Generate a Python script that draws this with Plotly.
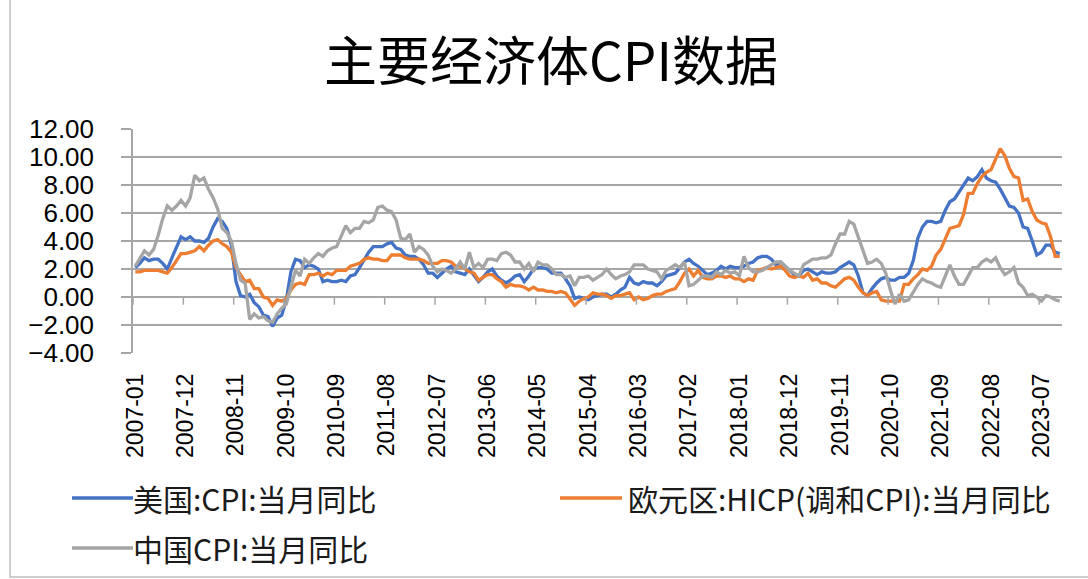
import plotly.graph_objects as go
import pandas as pd

months = [d.strftime("%Y-%m") for d in pd.date_range("2007-01-01", "2023-11-01", freq="MS")]

us_cpi = [
    2.1, 2.4, 2.8, 2.6, 2.7, 2.7, 2.4, 2.0, 2.8, 3.5, 4.3, 4.1,
    4.3, 4.0, 4.0, 3.9, 4.2, 5.0, 5.6, 5.4, 4.9, 3.7, 1.1, 0.1,
    0.0, 0.2, -0.4, -0.7, -1.3, -1.4, -2.1, -1.5, -1.3, -0.2, 1.8, 2.7,
    2.6, 2.1, 2.3, 2.2, 2.0, 1.1, 1.2, 1.1, 1.1, 1.2, 1.1, 1.5,
    1.6, 2.1, 2.7, 3.2, 3.6, 3.6, 3.6, 3.8, 3.9, 3.5, 3.4, 3.0,
    2.9, 2.9, 2.7, 2.3, 1.7, 1.7, 1.4, 1.7, 2.0, 2.2, 1.8, 1.7,
    1.6, 2.0, 1.5, 1.1, 1.4, 1.8, 2.0, 1.5, 1.2, 1.0, 1.2, 1.5,
    1.6, 1.1, 1.5, 2.0, 2.1, 2.1, 2.0, 1.7, 1.7, 1.7, 1.3, 0.8,
    -0.1, 0.0, -0.1, -0.2, 0.0, 0.1, 0.2, 0.2, 0.0, 0.2, 0.5, 0.7,
    1.4, 1.0, 0.9, 1.1, 1.0, 1.0, 0.8, 1.1, 1.5, 1.6, 1.7, 2.1,
    2.5, 2.7, 2.4, 2.2, 1.9, 1.6, 1.7, 1.9, 2.2, 2.0, 2.2, 2.1,
    2.1, 2.2, 2.4, 2.5, 2.8, 2.9, 2.9, 2.7, 2.3, 2.5, 2.2, 1.9,
    1.6, 1.5, 1.9, 2.0, 1.8, 1.6, 1.8, 1.7, 1.7, 1.8, 2.1, 2.3,
    2.5, 2.3, 1.5, 0.3, 0.1, 0.6, 1.0, 1.3, 1.4, 1.2, 1.2, 1.4,
    1.4, 1.7, 2.6, 4.2, 5.0, 5.4, 5.4, 5.3, 5.4, 6.2, 6.8, 7.0,
    7.5, 7.9, 8.5, 8.3, 8.6, 9.1, 8.5, 8.3, 8.2, 7.7, 7.1, 6.5,
    6.4, 6.0, 5.0, 4.9, 4.0, 3.0, 3.2, 3.7, 3.7, 3.2, 3.1,
]

ea_hicp = [
    1.8, 1.8, 1.9, 1.9, 1.9, 1.9, 1.8, 1.7, 2.1, 2.6, 3.1, 3.1,
    3.2, 3.3, 3.6, 3.3, 3.7, 4.0, 4.1, 3.8, 3.6, 3.2, 2.1, 1.6,
    1.1, 1.2, 0.6, 0.6, 0.0, -0.1, -0.6, -0.2, -0.3, -0.1, 0.5, 0.9,
    1.0, 0.9, 1.6, 1.6, 1.7, 1.5, 1.7, 1.6, 1.9, 1.9, 1.9, 2.2,
    2.3, 2.4, 2.7, 2.8, 2.7, 2.7, 2.6, 2.6, 3.0, 3.0, 3.0, 2.8,
    2.7, 2.7, 2.7, 2.6, 2.4, 2.4, 2.4, 2.6, 2.6, 2.5, 2.2, 2.2,
    2.0, 1.8, 1.7, 1.2, 1.4, 1.6, 1.6, 1.3, 1.1, 0.7, 0.9, 0.8,
    0.8, 0.7, 0.5, 0.7, 0.5, 0.5, 0.4, 0.4, 0.3, 0.4, 0.3, -0.2,
    -0.6, -0.3, -0.1, 0.0, 0.3, 0.2, 0.2, 0.1, -0.1, 0.1, 0.1, 0.2,
    0.3, -0.2, 0.0, -0.2, -0.1, 0.1, 0.2, 0.2, 0.4, 0.5, 0.6, 1.1,
    1.7, 2.0, 1.5, 1.9, 1.4, 1.3, 1.3, 1.5, 1.5, 1.4, 1.5, 1.3,
    1.3, 1.1, 1.3, 1.2, 1.9, 2.0, 2.1, 2.0, 2.1, 2.2, 1.9, 1.5,
    1.4, 1.5, 1.4, 1.7, 1.2, 1.3, 1.0, 1.0, 0.8, 0.7, 1.0, 1.3,
    1.4, 1.2, 0.7, 0.3, 0.1, 0.3, 0.4, -0.2, -0.3, -0.3, -0.3, -0.3,
    0.9, 0.9, 1.3, 1.6, 2.0, 1.9, 2.2, 3.0, 3.4, 4.1, 4.9, 5.0,
    5.1, 5.9, 7.4, 7.4, 8.1, 8.6, 8.9, 9.1, 9.9, 10.6, 10.1, 9.2,
    8.6, 8.5, 6.9, 7.0, 6.1, 5.5, 5.3, 5.2, 4.3, 2.9, 2.9,
]

china_cpi = [
    2.2, 2.7, 3.3, 3.0, 3.4, 4.4, 5.6, 6.5, 6.2, 6.5, 6.9, 6.5,
    7.1, 8.7, 8.3, 8.5, 7.7, 7.1, 6.3, 4.9, 4.6, 4.0, 2.4, 1.2,
    1.0, -1.6, -1.2, -1.5, -1.4, -1.7, -1.8, -1.2, -0.8, -0.5, 0.6, 1.9,
    1.5, 2.7, 2.4, 2.8, 3.1, 2.9, 3.3, 3.5, 3.6, 4.4, 5.1, 4.6,
    4.9, 4.9, 5.4, 5.3, 5.5, 6.4, 6.5, 6.2, 6.1, 5.5, 4.2, 4.1,
    4.5, 3.2, 3.6, 3.4, 3.0, 2.2, 1.8, 2.0, 1.9, 1.7, 2.0, 2.5,
    2.0, 3.2, 2.1, 2.4, 2.1, 2.7, 2.7, 2.6, 3.1, 3.2, 3.0, 2.5,
    2.5, 2.0, 2.4, 1.8, 2.5, 2.3, 2.3, 2.0, 1.6, 1.6, 1.4, 1.5,
    0.8, 1.4, 1.4, 1.5, 1.2, 1.4, 1.6, 2.0, 1.6, 1.3, 1.5, 1.6,
    1.8, 2.3, 2.3, 2.3, 2.0, 1.9, 1.8, 1.3, 1.9, 2.1, 2.3, 2.1,
    2.5, 0.8, 0.9, 1.2, 1.5, 1.5, 1.4, 1.8, 1.6, 1.9, 1.7, 1.8,
    1.5, 2.9, 2.1, 1.8, 1.8, 1.9, 2.1, 2.3, 2.5, 2.5, 2.2, 1.9,
    1.7, 1.5, 2.3, 2.5, 2.7, 2.7, 2.8, 2.8, 3.0, 3.8, 4.5, 4.5,
    5.4, 5.2, 4.3, 3.3, 2.4, 2.5, 2.7, 2.4, 1.7, 0.5, -0.5, 0.2,
    -0.3, -0.2, 0.4, 0.9, 1.3, 1.1, 1.0, 0.8, 0.7, 1.5, 2.3, 1.5,
    0.9, 0.9, 1.5, 2.1, 2.1, 2.5, 2.7, 2.5, 2.8, 2.1, 1.6, 1.8,
    2.1, 1.0, 0.7, 0.1, 0.2, 0.0, -0.3, 0.1, 0.0, -0.2, -0.3,
]

series_names = ["美国:CPI:当月同比", "欧元区:HICP(调和CPI):当月同比", "中国CPI:当月同比"]
series_colors = ["#4472C4", "#ED7D31", "#A5A5A5"]
title_text = "主要经济体CPI数据"
y_ticks = [-4, -2, 0, 2, 4, 6, 8, 10, 12]
label_step = 11

W, H = 1088, 579
L, R, T, B = 133, 1062, 129, 353  # plot area in pixels


def px(xp):
    return (xp - L) / (R - L)


def py(yp):
    return (B - yp) / (B - T)


CJK = "Noto Sans CJK SC"
GRID = "#a6a6a6"

fig = go.Figure()
for name, vals, col in zip(series_names, [us_cpi, ea_hicp, china_cpi], series_colors):
    fig.add_trace(go.Scatter(x=months, y=vals, mode="lines", name=name,
                             line=dict(color=col, width=3.3), showlegend=False))

tick_idx = list(range(0, len(months), label_step))
fig.update_xaxes(type="category", range=[-0.5, len(months) - 0.5],
                 tickvals=[months[i] for i in tick_idx], ticktext=[months[i] for i in tick_idx],
                 tickangle=-90, ticks="", showgrid=False, showline=False, zeroline=False,
                 tickfont=dict(family="Liberation Sans, Arial", size=23, color="#000"),
                 ticklabelstandoff=15)
fig.update_yaxes(range=[-4, 12], tickvals=y_ticks, tickformat=".2f",
                 showgrid=True, gridcolor=GRID, gridwidth=1.5,
                 showline=True, linecolor=GRID, linewidth=1.5,
                 ticks="outside", ticklen=10, tickcolor=GRID, tickwidth=1.5,
                 zeroline=False,
                 tickfont=dict(family="Liberation Sans, Arial", size=26, color="#000"),
                 ticklabelstandoff=22)

shapes = []
# x-axis tick marks on the zero line (category boundaries)
for i in tick_idx:
    shapes.append(dict(type="line", xref="x", yref="y", x0=i - 0.5, x1=i - 0.5,
                       y0=0, y1=-0.55, line=dict(color=GRID, width=1.5)))
# outer chart border
shapes.append(dict(type="rect", xref="paper", yref="paper",
                   x0=px(10), x1=px(1100), y0=py(577), y1=py(-5),
                   line=dict(color="#bfbfbf", width=1.5), layer="below"))

# manual legend
leg = [(72, 133, 498, 131), (560, 622, 498, 626), (72, 133, 548, 131)]
annotations = []
for (x0, x1, yy, tx), name, col in zip(leg, series_names, series_colors):
    shapes.append(dict(type="line", xref="paper", yref="paper",
                       x0=px(x0), x1=px(x1), y0=py(yy), y1=py(yy),
                       line=dict(color=col, width=3.3)))
    annotations.append(dict(xref="paper", yref="paper", x=px(tx), y=py(yy),
                            xanchor="left", yanchor="middle", showarrow=False,
                            text=name, font=dict(family=CJK, size=30, color="#1a1a1a")))

fig.update_layout(
    width=W, height=H,
    margin=dict(l=L, r=W - R, t=T, b=H - B),
    paper_bgcolor="white", plot_bgcolor="white",
    title=dict(text=title_text, x=551 / W, xref="container", xanchor="center",
               y=1 - 62 / H, yref="container", yanchor="middle",
               font=dict(family=CJK, size=53, color="#000")),
    shapes=shapes, annotations=annotations, showlegend=False,
)

fig.write_html("out.html", config={"displayModeBar": False},
               post_script="document.body.style.margin='0';document.body.style.padding='0';")
